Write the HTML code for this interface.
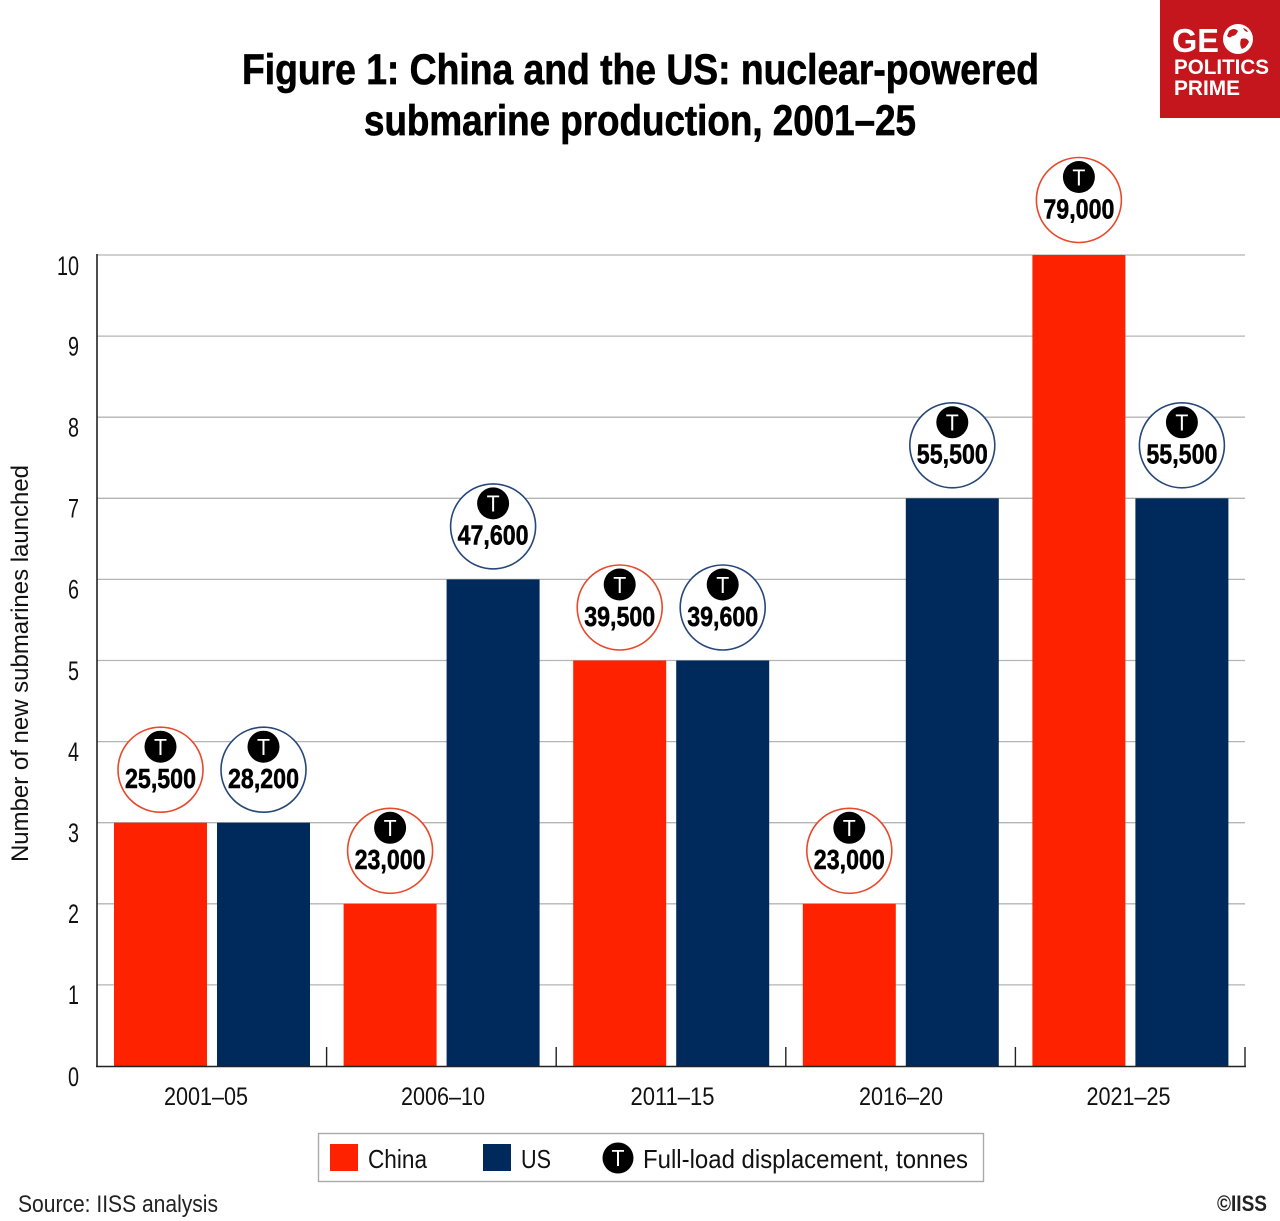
<!DOCTYPE html>
<html><head><meta charset="utf-8"><style>
html,body{margin:0;padding:0;background:#fff;}
svg{display:block;}
text{font-family:"Liberation Sans",sans-serif;}
</style></head><body>
<svg width="1280" height="1221" viewBox="0 0 1280 1221" xmlns="http://www.w3.org/2000/svg">
<rect width="1280" height="1221" fill="#fff"/>
<!-- Logo -->
<rect x="1160" y="0" width="120" height="118" fill="#c4161c"/>
<text x="1172" y="52" font-size="33" font-weight="bold" fill="#fff" textLength="47" lengthAdjust="spacingAndGlyphs">GE</text>
<circle cx="1238" cy="39" r="15" fill="#fff"/>
<path d="M1229 31 q5 -4 9 0 q-2 5 -6 5 q-2 3 -5 0z M1241 39 q6 -2 8 3 q-3 6 -7 7 q-3 -4 -1 -10z M1243 28 q4 1 5 4 q-3 0 -5 -4z" fill="#c4161c"/>
<text x="1174" y="74" font-size="21" font-weight="bold" fill="#fff" textLength="95" lengthAdjust="spacingAndGlyphs">POLITICS</text>
<text x="1174" y="95" font-size="21" font-weight="bold" fill="#fff" textLength="66" lengthAdjust="spacingAndGlyphs">PRIME</text>

<!-- Title -->
<text x="242" y="84" font-size="43" font-weight="bold" fill="#000" stroke="#000" stroke-width="0.7" textLength="797" lengthAdjust="spacingAndGlyphs">Figure 1: China and the US: nuclear-powered</text>
<text x="364" y="135" font-size="43" font-weight="bold" fill="#000" stroke="#000" stroke-width="0.7" textLength="552" lengthAdjust="spacingAndGlyphs">submarine production, 2001–25</text>

<!-- Gridlines -->
<g stroke="#b4b4b4" stroke-width="1.3">
<line x1="97" y1="255" x2="1245" y2="255"/>
<line x1="97" y1="336.1" x2="1245" y2="336.1"/>
<line x1="97" y1="417.2" x2="1245" y2="417.2"/>
<line x1="97" y1="498.3" x2="1245" y2="498.3"/>
<line x1="97" y1="579.4" x2="1245" y2="579.4"/>
<line x1="97" y1="660.5" x2="1245" y2="660.5"/>
<line x1="97" y1="741.6" x2="1245" y2="741.6"/>
<line x1="97" y1="822.7" x2="1245" y2="822.7"/>
<line x1="97" y1="903.8" x2="1245" y2="903.8"/>
<line x1="97" y1="984.9" x2="1245" y2="984.9"/>
</g>

<!-- Bars -->
<g fill="#ff2200">
<rect x="114" y="822.7" width="93" height="243.3"/>
<rect x="343.6" y="903.8" width="93" height="162.2"/>
<rect x="573.2" y="660.5" width="93" height="405.5"/>
<rect x="802.8" y="903.8" width="93" height="162.2"/>
<rect x="1032.4" y="255" width="93" height="811"/>
</g>
<g fill="#002a5c">
<rect x="217" y="822.7" width="93" height="243.3"/>
<rect x="446.6" y="579.4" width="93" height="486.6"/>
<rect x="676.2" y="660.5" width="93" height="405.5"/>
<rect x="905.8" y="498.3" width="93" height="567.7"/>
<rect x="1135.4" y="498.3" width="93" height="567.7"/>
</g>

<!-- Axes -->
<line x1="97" y1="254" x2="97" y2="1067" stroke="#222" stroke-width="1.6"/>
<line x1="96" y1="1066.5" x2="1246" y2="1066.5" stroke="#222" stroke-width="1.6"/>
<g stroke="#222" stroke-width="1.4">
<line x1="326.6" y1="1047" x2="326.6" y2="1066"/>
<line x1="556.2" y1="1047" x2="556.2" y2="1066"/>
<line x1="785.8" y1="1047" x2="785.8" y2="1066"/>
<line x1="1015.4" y1="1047" x2="1015.4" y2="1066"/>
<line x1="1245" y1="1047" x2="1245" y2="1066"/>
</g>

<!-- Y tick labels -->
<g font-size="27" fill="#111" text-anchor="end">
<text x="79" y="275" textLength="22" lengthAdjust="spacingAndGlyphs">10</text>
<text x="79" y="355.5" textLength="11" lengthAdjust="spacingAndGlyphs">9</text>
<text x="79" y="436.5" textLength="11" lengthAdjust="spacingAndGlyphs">8</text>
<text x="79" y="517.5" textLength="11" lengthAdjust="spacingAndGlyphs">7</text>
<text x="79" y="598.5" textLength="11" lengthAdjust="spacingAndGlyphs">6</text>
<text x="79" y="680" textLength="11" lengthAdjust="spacingAndGlyphs">5</text>
<text x="79" y="761" textLength="11" lengthAdjust="spacingAndGlyphs">4</text>
<text x="79" y="842" textLength="11" lengthAdjust="spacingAndGlyphs">3</text>
<text x="79" y="923" textLength="11" lengthAdjust="spacingAndGlyphs">2</text>
<text x="79" y="1004" textLength="11" lengthAdjust="spacingAndGlyphs">1</text>
<text x="79" y="1086" textLength="11" lengthAdjust="spacingAndGlyphs">0</text>
</g>

<!-- Y axis title -->
<text transform="translate(28,663.5) rotate(-90)" x="0" y="0" font-size="24" fill="#111" text-anchor="middle" textLength="397" lengthAdjust="spacingAndGlyphs">Number of new submarines launched</text>

<!-- X labels -->
<g font-size="25" fill="#111" text-anchor="middle">
<text x="206" y="1105" textLength="84" lengthAdjust="spacingAndGlyphs">2001–05</text>
<text x="443" y="1105" textLength="84" lengthAdjust="spacingAndGlyphs">2006–10</text>
<text x="672.5" y="1105" textLength="84" lengthAdjust="spacingAndGlyphs">2011–15</text>
<text x="901" y="1105" textLength="84" lengthAdjust="spacingAndGlyphs">2016–20</text>
<text x="1128.5" y="1105" textLength="84" lengthAdjust="spacingAndGlyphs">2021–25</text>
</g>

<!-- Displacement circles -->
<g fill="#fff" stroke-width="1.6">
<circle cx="160.5" cy="769.7" r="42.5" stroke="#e8492b"/>
<circle cx="263.5" cy="769.7" r="42.5" stroke="#27477a"/>
<circle cx="390.1" cy="850.8" r="42.5" stroke="#e8492b"/>
<circle cx="493.1" cy="526.4" r="42.5" stroke="#27477a"/>
<circle cx="619.7" cy="607.5" r="42.5" stroke="#e8492b"/>
<circle cx="722.7" cy="607.5" r="42.5" stroke="#27477a"/>
<circle cx="849.3" cy="850.8" r="42.5" stroke="#e8492b"/>
<circle cx="952.3" cy="445.3" r="42.5" stroke="#27477a"/>
<circle cx="1078.9" cy="200" r="42.5" stroke="#e8492b"/>
<circle cx="1181.9" cy="445.3" r="42.5" stroke="#27477a"/>
</g>
<g fill="#000">
<circle cx="160.5" cy="746.7" r="16"/>
<circle cx="263.5" cy="746.7" r="16"/>
<circle cx="390.1" cy="827.8" r="16"/>
<circle cx="493.1" cy="503.4" r="16"/>
<circle cx="619.7" cy="584.5" r="16"/>
<circle cx="722.7" cy="584.5" r="16"/>
<circle cx="849.3" cy="827.8" r="16"/>
<circle cx="952.3" cy="422.3" r="16"/>
<circle cx="1078.9" cy="177" r="16"/>
<circle cx="1181.9" cy="422.3" r="16"/>
</g>
<g fill="#fff" font-size="23" text-anchor="middle">
<text x="160.5" y="755" textLength="13" lengthAdjust="spacingAndGlyphs">T</text>
<text x="263.5" y="755" textLength="13" lengthAdjust="spacingAndGlyphs">T</text>
<text x="390.1" y="836.1" textLength="13" lengthAdjust="spacingAndGlyphs">T</text>
<text x="493.1" y="511.7" textLength="13" lengthAdjust="spacingAndGlyphs">T</text>
<text x="619.7" y="592.8" textLength="13" lengthAdjust="spacingAndGlyphs">T</text>
<text x="722.7" y="592.8" textLength="13" lengthAdjust="spacingAndGlyphs">T</text>
<text x="849.3" y="836.1" textLength="13" lengthAdjust="spacingAndGlyphs">T</text>
<text x="952.3" y="430.6" textLength="13" lengthAdjust="spacingAndGlyphs">T</text>
<text x="1078.9" y="185.3" textLength="13" lengthAdjust="spacingAndGlyphs">T</text>
<text x="1181.9" y="430.6" textLength="13" lengthAdjust="spacingAndGlyphs">T</text>
</g>
<g fill="#000" stroke="#000" stroke-width="0.5" font-size="28" font-weight="bold" text-anchor="middle">
<text x="160.5" y="788" textLength="71" lengthAdjust="spacingAndGlyphs">25,500</text>
<text x="263.5" y="788" textLength="71" lengthAdjust="spacingAndGlyphs">28,200</text>
<text x="390.1" y="869.1" textLength="71" lengthAdjust="spacingAndGlyphs">23,000</text>
<text x="493.1" y="544.7" textLength="71" lengthAdjust="spacingAndGlyphs">47,600</text>
<text x="619.7" y="625.8" textLength="71" lengthAdjust="spacingAndGlyphs">39,500</text>
<text x="722.7" y="625.8" textLength="71" lengthAdjust="spacingAndGlyphs">39,600</text>
<text x="849.3" y="869.1" textLength="71" lengthAdjust="spacingAndGlyphs">23,000</text>
<text x="952.3" y="463.6" textLength="71" lengthAdjust="spacingAndGlyphs">55,500</text>
<text x="1078.9" y="218.3" textLength="71" lengthAdjust="spacingAndGlyphs">79,000</text>
<text x="1181.9" y="463.6" textLength="71" lengthAdjust="spacingAndGlyphs">55,500</text>
</g>

<!-- Legend -->
<rect x="318.5" y="1133.5" width="665" height="48" fill="#fff" stroke="#aaa" stroke-width="1.4"/>
<rect x="330" y="1144" width="28" height="27" fill="#ff2200"/>
<text x="368" y="1168" font-size="26" fill="#111" textLength="59" lengthAdjust="spacingAndGlyphs">China</text>
<rect x="483" y="1144" width="28" height="27" fill="#002a5c"/>
<text x="521" y="1168" font-size="26" fill="#111" textLength="30" lengthAdjust="spacingAndGlyphs">US</text>
<circle cx="618" cy="1158" r="15.5" fill="#000"/>
<text x="618" y="1166" font-size="23" fill="#fff" text-anchor="middle" textLength="13" lengthAdjust="spacingAndGlyphs">T</text>
<text x="643" y="1168" font-size="26" fill="#111" textLength="325" lengthAdjust="spacingAndGlyphs">Full-load displacement, tonnes</text>

<!-- Footer -->
<text x="18" y="1212" font-size="24" fill="#222" textLength="200" lengthAdjust="spacingAndGlyphs">Source: IISS analysis</text>
<text x="1217" y="1211" font-size="22" font-weight="bold" fill="#222" textLength="50" lengthAdjust="spacingAndGlyphs">©IISS</text>
</svg>
</body></html>
